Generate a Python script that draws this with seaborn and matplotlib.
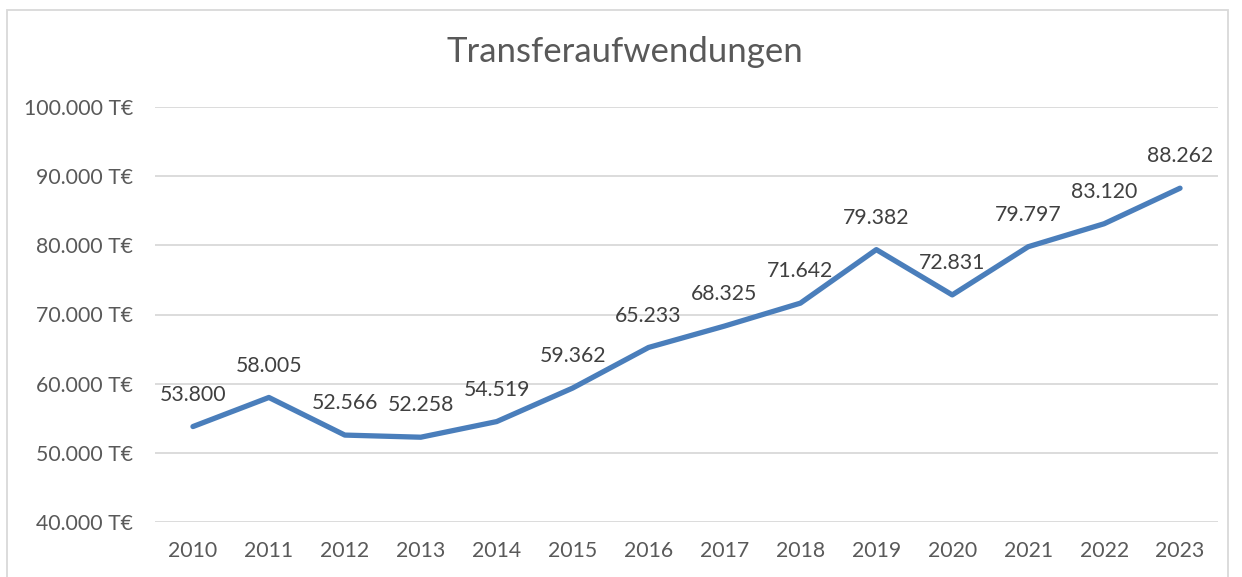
import matplotlib
matplotlib.use('Agg')
import matplotlib.pyplot as plt
import seaborn as sns
import pandas as pd
from matplotlib.patches import Rectangle
from matplotlib.ticker import FuncFormatter

# data
years = ['2010', '2011', '2012', '2013', '2014', '2015', '2016',
         '2017', '2018', '2019', '2020', '2021', '2022', '2023']
values = [53800, 58005, 52566, 52258, 54519, 59362, 65233,
          68325, 71642, 79382, 72831, 79797, 83120, 88262]

df = pd.DataFrame({'year': years, 'value': values})

sns.set_style('white')
plt.rcParams['font.family'] = ['Lato', 'DejaVu Sans']

grey = '#595959'
blue = '#4A7EBB'

fig = plt.figure(figsize=(12.42, 5.77), dpi=100)
ax = fig.add_axes([155 / 1242, 1 - 522 / 577, (1218 - 155) / 1242, (522 - 107) / 577])

sns.lineplot(data=df, x='year', y='value', ax=ax, color=blue, linewidth=3.8,
             sort=False, solid_capstyle='round', solid_joinstyle='round')

for i, v in enumerate(values):
    ax.annotate(f'{v:,}'.replace(',', '.'), (i, v), xytext=(0, 23),
                textcoords='offset points', ha='center', va='center',
                fontsize=15.3, color='#404040')

ax.set_xlim(-0.5, len(years) - 0.5)
ax.set_ylim(40000, 100000)
ax.set_yticks(range(40000, 100001, 10000))
ax.yaxis.set_major_formatter(FuncFormatter(lambda v, p: f'{int(v):,} T€'.replace(',', '.')))
ax.grid(axis='y', color='#D9D9D9', linewidth=1.3)
ax.set_axisbelow(True)
for s in ax.spines.values():
    s.set_visible(False)
ax.tick_params(axis='both', length=0, labelsize=15.3, labelcolor=grey)
ax.tick_params(axis='y', pad=16)
ax.tick_params(axis='x', pad=14)
ax.set_xlabel('')
ax.set_ylabel('')

fig.text(625 / 1242, 1 - 52 / 577, 'Transferaufwendungen', ha='center', va='center',
         fontsize=25, color=grey)

fig.patches.append(Rectangle((7 / 1242, -0.05), (1228 - 7) / 1242, 1.05 - 10 / 577,
                             transform=fig.transFigure, fill=False,
                             edgecolor='#D9D9D9', linewidth=1.3))

fig.savefig('out.png', dpi=100)
